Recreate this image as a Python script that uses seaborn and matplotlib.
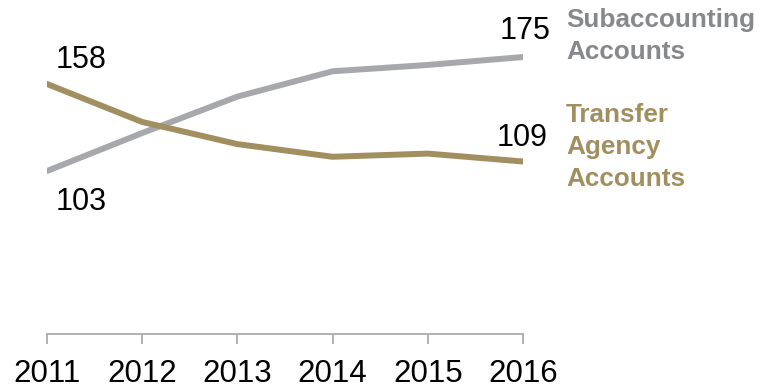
import matplotlib
matplotlib.use("Agg")
import matplotlib.pyplot as plt
import pandas as pd
import seaborn as sns

years = [2011, 2012, 2013, 2014, 2015, 2016]
subaccounting = [103, 127, 150, 166, 170, 175]
transfer_agency = [158, 134, 120, 112, 114, 109]

GRAY = "#A7A8AC"
GRAY_TEXT = "#87888C"
GOLD = "#A28F5F"
AXIS = "#ABABAB"

df = pd.DataFrame({
    "year": years * 2,
    "accounts": subaccounting + transfer_agency,
    "series": ["Subaccounting"] * len(years) + ["Transfer Agency"] * len(years),
})

sns.set_style("white")
plt.rcParams["font.family"] = ["Liberation Sans", "DejaVu Sans"]
plt.rcParams["text.color"] = "black"

fig = plt.figure(figsize=(7.6, 3.88), dpi=100)
ax = fig.add_axes([0.0618, 0.139, 0.6263, 0.816])

sns.lineplot(data=df, x="year", y="accounts", hue="series",
             palette={"Subaccounting": GRAY, "Transfer Agency": GOLD},
             linewidth=4.3, legend=False, ax=ax)

ax.set_xlim(years[0], years[-1])
ax.set_ylim(0, 200)
ax.set_xticks(years)
ax.set_xticklabels([str(y) for y in years])
ax.set_yticks([])
ax.set_xlabel("")
ax.set_ylabel("")
for side in ["top", "right", "left"]:
    ax.spines[side].set_visible(False)
ax.spines["bottom"].set_color(AXIS)
ax.spines["bottom"].set_linewidth(1.3)
ax.tick_params(axis="x", bottom=True, direction="out", length=7.5, width=1.3,
               color=AXIS, pad=10.5, labelsize=22.5, labelcolor="black")

# value labels at the ends of each line
ax.annotate(str(transfer_agency[0]), (years[0], transfer_agency[0]),
            xytext=(6, 17.5), textcoords="offset points",
            fontsize=22, ha="left", va="center")
ax.annotate(str(subaccounting[0]), (years[0], subaccounting[0]),
            xytext=(6, -22.5), textcoords="offset points",
            fontsize=22, ha="left", va="center")
ax.annotate(str(subaccounting[-1]), (years[-1], subaccounting[-1]),
            xytext=(20, 18.5), textcoords="offset points",
            fontsize=22, ha="right", va="center")
ax.annotate(str(transfer_agency[-1]), (years[-1], transfer_agency[-1]),
            xytext=(18, 17), textcoords="offset points",
            fontsize=22, ha="right", va="center")

# series names to the right of the plot
fig.text(566 / 760, 1 - 36 / 388, "Subaccounting\nAccounts", color=GRAY_TEXT,
         fontsize=18.8, fontweight="bold", ha="left", va="center",
         linespacing=1.4)
fig.text(566 / 760, 1 - 147 / 388, "Transfer\nAgency\nAccounts", color=GOLD,
         fontsize=18.8, fontweight="bold", ha="left", va="center",
         linespacing=1.4)

fig.savefig("out.png", dpi=100, facecolor="white")
